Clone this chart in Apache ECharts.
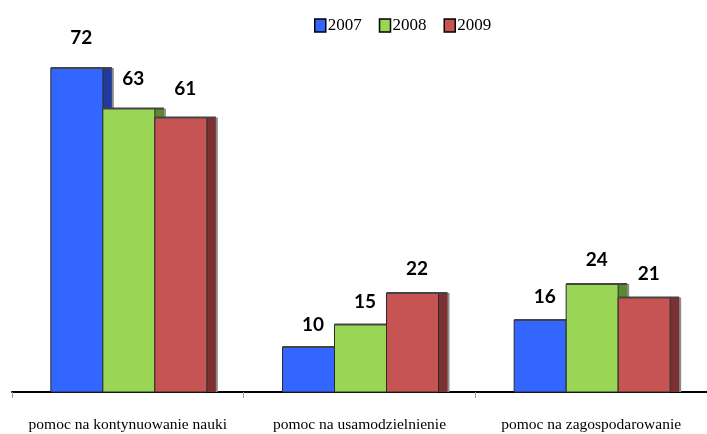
<!DOCTYPE html>
<html><head><meta charset="utf-8">
<script src="https://cdn.jsdelivr.net/npm/echarts@6/dist/echarts.min.js"></script>
<style>html,body{margin:0;padding:0;background:#fff}#c{width:707px;height:434px}</style>
</head><body><div id="c"></div>
<script>
const categories = ['pomoc na kontynuowanie nauki', 'pomoc na usamodzielnienie', 'pomoc na zagospodarowanie'];
const years = ['2007', '2008', '2009'];
const v2007 = [72, 10, 16];
const v2008 = [63, 15, 24];
const v2009 = [61, 22, 21];
const values = [v2007, v2008, v2009];
const frontColors = ['#3366FF', '#99D655', '#C55452'];
const sideColors = ['#1F3C9C', '#5B8A2E', '#7B3131'];

const BW = 52, SW = 9;

function makeRender(idx) {
  return function (params, api) {
    const ci = api.value(0), v = api.value(1);
    const top = api.coord([ci, v]);
    const base = api.coord([ci, 0]);
    const x0 = top[0] + 1 + (idx - 1.5) * BW;
    const h = base[1] - top[1];
    return {
      type: 'group',
      children: [
        { type: 'rect', shape: { x: x0 + BW, y: top[1], width: SW + 2, height: h }, style: { fill: '#8c8c8c' } },
        { type: 'rect', shape: { x: x0 + BW, y: top[1], width: SW, height: h }, style: { fill: sideColors[idx] } },
        { type: 'rect', shape: { x: x0, y: top[1], width: BW, height: h }, style: { fill: frontColors[idx], stroke: '#2a2a2a', lineWidth: 1 } },
        { type: 'rect', shape: { x: x0, y: top[1] - 1, width: BW + SW, height: 2 }, style: { fill: '#444' } },
        { type: 'text', x: x0 + (BW + SW) / 2, y: top[1] - (21 + v * 0.13),
          style: { text: String(v), fill: '#000', font: 'bold 19px Lato', align: 'center', verticalAlign: 'middle' } }
      ]
    };
  };
}

const chart = echarts.init(document.getElementById('c'));
chart.setOption({
  animation: false,
  legend: {
    top: 12, left: 309,
    icon: 'rect', itemWidth: 11, itemHeight: 13, itemGap: 17,
    textStyle: { fontFamily: 'Liberation Serif', fontSize: 17, color: '#000', padding: [0, 0, 0, -3] },
    data: years.map((y, i) => ({ name: y, itemStyle: { color: frontColors[i], borderColor: '#000', borderWidth: 1.5 } }))
  },
  grid: { left: 12, right: -1, top: 32, bottom: 42, containLabel: false },
  xAxis: {
    type: 'category', data: categories,
    axisLine: { lineStyle: { color: '#000', width: 2 } },
    axisTick: { show: true, length: 6, lineStyle: { color: '#999' } },
    axisLabel: { interval: 0, fontFamily: 'Liberation Serif', fontSize: 15.5, color: '#000', margin: 25 }
  },
  yAxis: { type: 'value', min: 0, max: 80, show: false, splitLine: { show: false } },
  series: years.map((y, i) => ({
    name: y, type: 'custom',
    itemStyle: { color: frontColors[i] },
    renderItem: makeRender(i),
    encode: { x: 0, y: 1 },
    data: values[i].map((v, ci) => [ci, v])
  }))
});
</script>
</body></html>
